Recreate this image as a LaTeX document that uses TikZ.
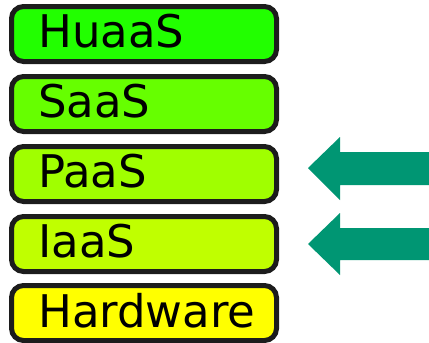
\documentclass[tikz,border=0pt]{standalone}
\usepackage{fontspec}
\setmainfont{DejaVu Sans}
\definecolor{cHu}{RGB}{34,255,0}
\definecolor{cSa}{RGB}{102,255,0}
\definecolor{cPa}{RGB}{160,255,0}
\definecolor{cIa}{RGB}{192,255,0}
\definecolor{cHw}{RGB}{255,255,0}
\definecolor{cArr}{RGB}{0,150,115}
\definecolor{cEdge}{RGB}{28,28,28}
\begin{document}
\begin{tikzpicture}[x=1pt,y=-1pt,
  layerbox/.style={draw=cEdge, line width=5pt, rounded corners=12pt,
    minimum width=265pt, minimum height=55pt, inner sep=0pt},
  layertext/.style={anchor=base west, inner sep=0pt, font=\fontsize{45}{45}\selectfont},
  bigarrow/.style={fill=cArr}]
\useasboundingbox (0,0) rectangle (429,343);
\node[layerbox, fill=cHu] (hu) at (144,34) {};
\node[layerbox, fill=cSa] (sa) at (144,104) {};
\node[layerbox, fill=cPa] (pa) at (144,174) {};
\node[layerbox, fill=cIa] (ia) at (144,244) {};
\node[layerbox, fill=cHw] (hw) at (144,313) {};
\node[layertext] (huT) at (38,47) {HuaaS};
\node[layertext] (saT) at (38,117) {SaaS};
\node[layertext] (paT) at (38,187) {PaaS};
\node[layertext] (iaT) at (38,257) {IaaS};
\node[layertext] (hwT) at (38,327) {Hardware};
\fill[bigarrow] (308,168) -- (340,137) -- (340,152) -- (429,152) -- (429,185) -- (340,185) -- (340,200) -- cycle;
\fill[bigarrow] (308,244) -- (340,213) -- (340,228) -- (429,228) -- (429,260) -- (340,260) -- (340,275) -- cycle;
\end{tikzpicture}
\end{document}
